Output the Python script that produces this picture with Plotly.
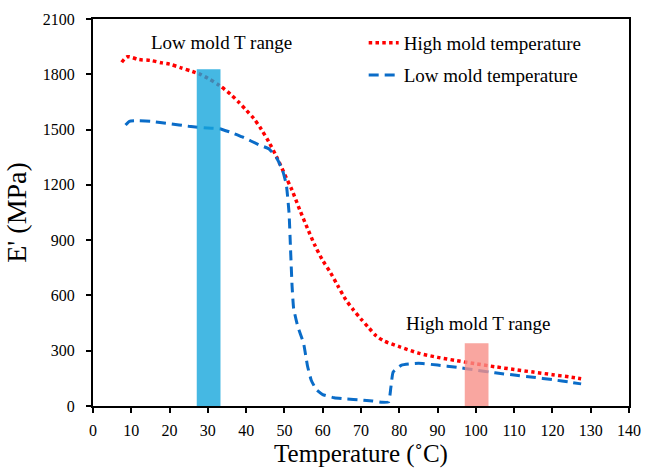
import plotly.graph_objects as go

# High mold temperature (red dotted)
high_T = [7.5, 9, 12, 15, 18, 20, 23, 26, 28, 30, 33, 36, 38, 40, 42, 44, 46, 48, 50, 52, 54,
          56, 58, 60, 62, 64, 66, 68, 70, 72, 74, 76, 80, 85, 90, 95, 100, 105, 110, 115, 120,
          125, 127.5]
high_E = [1865, 1895, 1880, 1875, 1862, 1855, 1835, 1815, 1800, 1778, 1740, 1690, 1650, 1606, 1560,
          1500, 1430, 1350, 1260, 1170, 1065, 965, 870, 790, 725, 650, 578, 522, 472, 425, 380,
          353, 322, 287, 264, 246, 229, 213, 198, 184, 170, 156, 148]

# Low mold temperature (blue dashed)
low_T = [8.5, 9.5, 12, 15, 20, 25, 30, 33, 36, 39, 43.5, 46, 48, 49.5, 50.5, 51.2, 51.6, 52,
         52.4, 53.5, 55, 56, 57, 58.4, 60, 63, 66, 70, 73, 75.5, 77.2, 77.8, 78.4, 80.6, 85,
         90, 95, 100, 105, 110, 115, 120, 125, 127.5]
low_E = [1525, 1545, 1548, 1545, 1532, 1518, 1508, 1505, 1485, 1460, 1416, 1395, 1345, 1280, 1200,
         1050, 850, 650, 530, 430, 340, 220, 140, 87, 62, 45, 38, 33, 27, 20, 22, 100, 185, 222,
         232, 222, 210, 195, 180, 168, 156, 143, 128, 120]

# Mold temperature ranges (shaded bars)
range_labels = ["Low mold T range", "High mold T range"]
range_x0 = [27.1, 97.1]
range_x1 = [33.3, 103.3]
range_top = [1828, 340]
range_colors = ["#16A6DC", "#F79088"]
label_x = [33.5, 100.5]
label_y = [1975, 445]

x_ticks = list(range(0, 141, 10))
y_ticks = list(range(0, 2101, 300))

SERIF = "Times New Roman, Liberation Serif, serif"

fig = go.Figure()
fig.add_trace(go.Scatter(x=high_T, y=high_E, mode="lines", name="High mold temperature",
                         legend="legend",
                         line=dict(color="#FF0000", width=3.5, dash="3.5px,3.3px",
                                   shape="spline", smoothing=0.8)))
fig.add_trace(go.Scatter(x=low_T, y=low_E, mode="lines", name="Low mold temperature",
                         legend="legend2",
                         line=dict(color="#0A6CC8", width=3, dash="10px,6px",
                                   shape="spline", smoothing=0.4)))

for x0, x1, top, col in zip(range_x0, range_x1, range_top, range_colors):
    fig.add_shape(type="rect", x0=x0, x1=x1, y0=0, y1=top, xref="x", yref="y",
                  fillcolor=col, opacity=0.8, line=dict(width=0), layer="above")

for lab, lx, ly in zip(range_labels, label_x, label_y):
    fig.add_annotation(x=lx, y=ly, text=lab, showarrow=False,
                       font=dict(family=SERIF, size=19, color="#000"))

legend_common = dict(xanchor="left", yanchor="middle", bgcolor="rgba(0,0,0,0)",
                     font=dict(family=SERIF, size=19, color="#000"), itemwidth=30)

fig.update_layout(
    width=645, height=473,
    margin=dict(l=93, r=16, t=19, b=67),
    plot_bgcolor="white", paper_bgcolor="white",
    font=dict(family=SERIF, color="#000"),
    showlegend=True,
    legend=dict(x=0.505, y=0.938, **legend_common),
    legend2=dict(x=0.505, y=0.855, **legend_common),
    xaxis=dict(range=[0, 140], tickvals=x_ticks, ticks="outside", ticklen=5, tickwidth=1.5,
               tickcolor="#000", showline=True, linecolor="#000", linewidth=2, mirror=True,
               showgrid=False, zeroline=False, automargin=False, ticklabelstandoff=4,
               tickfont=dict(family=SERIF, size=16, color="#000"),
               title=dict(text="Temperature (˚C)", font=dict(family=SERIF, size=25, color="#000"),
                          standoff=6)),
    yaxis=dict(range=[0, 2100], tickvals=y_ticks, ticks="outside", ticklen=5, tickwidth=1.5,
               tickcolor="#000", showline=True, linecolor="#000", linewidth=2, mirror=True,
               showgrid=False, zeroline=False, automargin=False, ticklabelstandoff=8,
               tickfont=dict(family=SERIF, size=16, color="#000"),
               title=dict(text="E' (MPa)", font=dict(family=SERIF, size=28, color="#000"),
                          standoff=8)),
)

fig.write_html("out.html")
